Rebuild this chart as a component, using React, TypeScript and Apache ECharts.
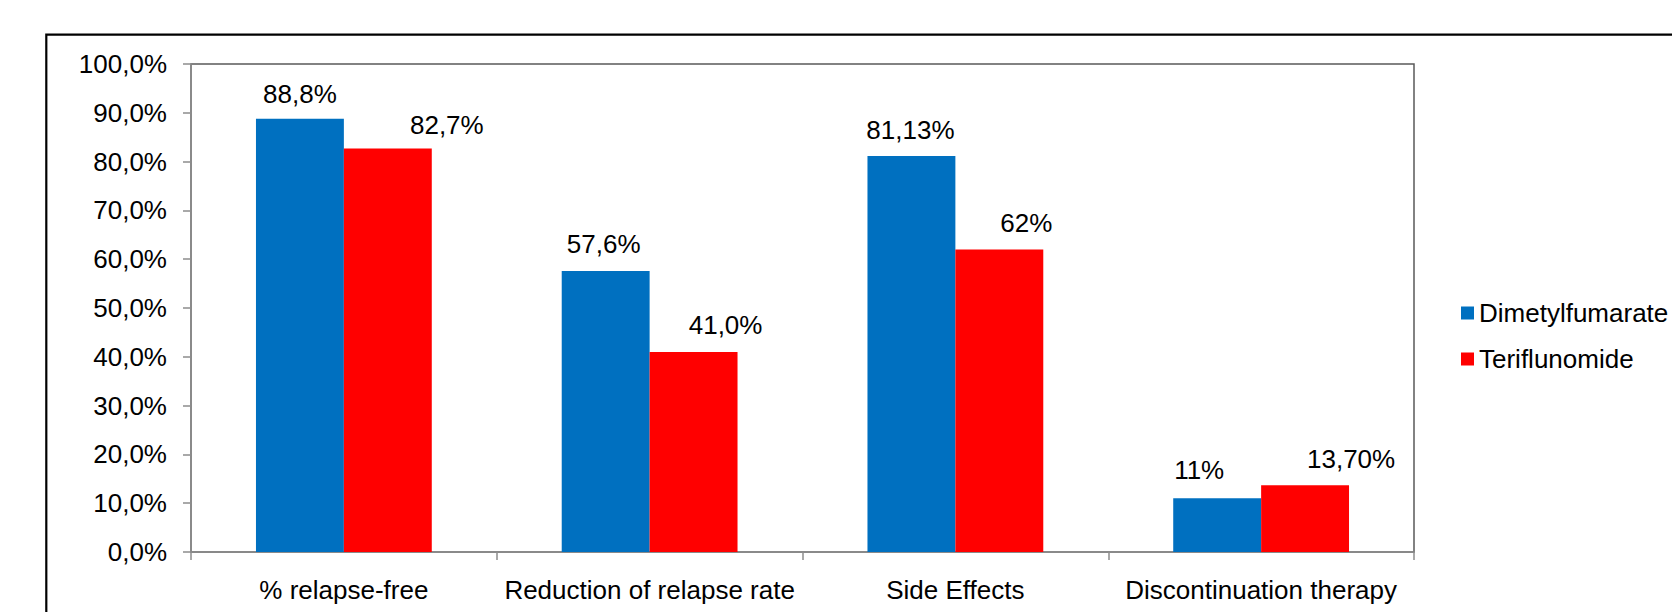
import React, { useEffect, useRef } from "react";
import * as echarts from "echarts";

// ---- data ----
const categories = [
  "% relapse-free",
  "Reduction of relapse rate",
  "Side Effects",
  "Discontinuation therapy",
];
const seriesNames = ["Dimetylfumarate", "Teriflunomide"];
const dimetylfumarate = [88.8, 57.6, 81.13, 11];
const teriflunomide = [82.7, 41.0, 62, 13.7];
const dimetylLabels = ["88,8%", "57,6%", "81,13%", "11%"];
const teriLabels = ["82,7%", "41,0%", "62%", "13,70%"];
const yTicks = [0, 10, 20, 30, 40, 50, 60, 70, 80, 90, 100];

// ---- layout / style ----
const FONT = '"Liberation Sans", Arial, sans-serif';
const FS = 26;
const blueShift: [number, number][] = [[0, 1], [-2, -1], [-1, 0], [-18, -2]];
const redShift: [number, number][] = [[59, 3], [32, -1], [27, 0], [46, 0]];

export default function App() {
  const ref = useRef<HTMLDivElement>(null);
  useEffect(() => {
    if (!ref.current) return;
    const chart = echarts.init(ref.current, null, { renderer: "svg" });
    const mk = (vals: number[], labels: string[], shift: [number, number][]) =>
      vals.map((v, i) => ({
        value: v,
        label: { formatter: labels[i], offset: shift[i] },
      }));
    chart.setOption({
      animation: false,
      backgroundColor: "#ffffff",
      textStyle: { fontFamily: FONT },
      grid: {
        left: 191,
        top: 64,
        right: 258,
        bottom: 60,
        containLabel: false,
        show: true,
        borderColor: "#5a5a5a",
        borderWidth: 1.5,
        backgroundColor: "transparent",
      },
      legend: {
        orient: "vertical",
        left: 1456,
        top: 295,
        itemWidth: 13,
        itemHeight: 13,
        itemGap: 20,
        icon: "rect",
        data: seriesNames,
        textStyle: { fontFamily: FONT, fontSize: FS, color: "#000" },
      },
      xAxis: {
        type: "category",
        data: categories,
        axisLine: { lineStyle: { color: "#8c8c8c", width: 1.5 } },
        axisTick: { show: true, length: 8, inside: false, lineStyle: { color: "#8c8c8c", width: 1.5 } },
        axisLabel: { fontFamily: FONT, fontSize: FS, color: "#000", margin: 25, interval: 0 },
        splitLine: { show: false },
      },
      yAxis: {
        type: "value",
        min: 0,
        max: 100,
        interval: 10,
        axisLine: { show: true, lineStyle: { color: "#8c8c8c", width: 1.5 } },
        axisTick: { show: true, length: 8, lineStyle: { color: "#8c8c8c", width: 1.5 } },
        splitLine: { show: false },
        axisLabel: {
          fontFamily: FONT,
          fontSize: FS,
          color: "#000",
          margin: 24,
          formatter: (v: number) =>
            yTicks.includes(v) ? v.toFixed(1).replace(".", ",") + "%" : "",
        },
      },
      series: [
        {
          name: seriesNames[0],
          type: "bar",
          data: mk(dimetylfumarate, dimetylLabels, blueShift),
          itemStyle: { color: "#0070C0" },
          barGap: "0%",
          barCategoryGap: "42.5%",
          label: {
            show: true,
            position: "top",
            distance: 13,
            fontFamily: FONT,
            fontSize: FS,
            color: "#000",
          },
        },
        {
          name: seriesNames[1],
          type: "bar",
          data: mk(teriflunomide, teriLabels, redShift),
          itemStyle: { color: "#FF0000" },
          barGap: "0%",
          barCategoryGap: "42.5%",
          label: {
            show: true,
            position: "top",
            distance: 13,
            fontFamily: FONT,
            fontSize: FS,
            color: "#000",
          },
        },
      ],
      graphic: [
        {
          type: "rect",
          shape: { x: 46.3, y: 34.7, width: 1800, height: 800 },
          style: { fill: "none", stroke: "#000", lineWidth: 2.2 },
          silent: true,
        },
      ],
    });
    return () => chart.dispose();
  }, []);
  return (
    <div
      ref={ref}
      style={{ position: "fixed", left: 0, top: 0, width: 1672, height: 612 }}
    />
  );
}
